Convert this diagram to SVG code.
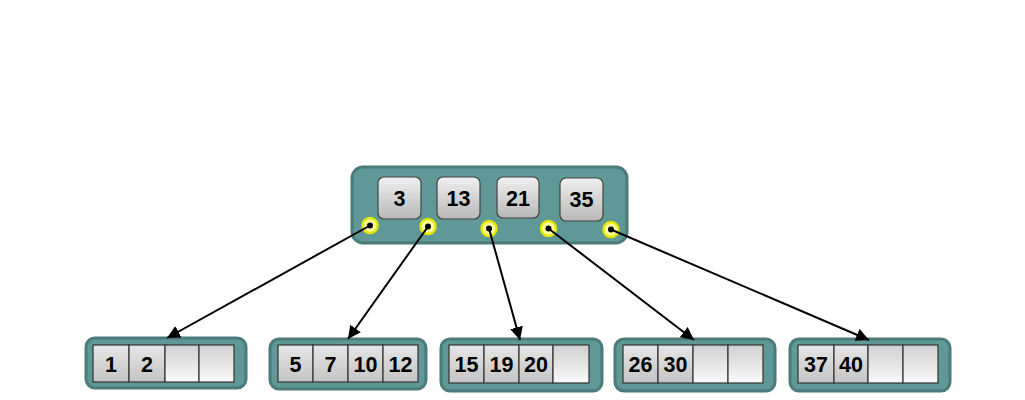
<svg xmlns="http://www.w3.org/2000/svg" width="1025" height="400" viewBox="0 0 1025 400">
<style>
.node{fill:#609898;stroke:#4b7b7b;stroke-width:3}
.key{fill:url(#kg);stroke:#444;stroke-width:1.2}
.cell{fill:url(#cg);stroke:#333;stroke-width:1.2}
.empty{fill:url(#eg);stroke:#333;stroke-width:1.2}
.t{font-family:"Liberation Sans",Arial,sans-serif;font-weight:bold;font-size:21.5px;text-anchor:middle;fill:#000}
.ptr{fill:#ffffa0;stroke:#e6e600;stroke-width:2.5}
.dot{fill:#000}
.conn line{stroke:#000;stroke-width:2;marker-end:url(#ah)}
</style>
<defs>
<linearGradient id="kg" x1="0" y1="0" x2="0" y2="1"><stop offset="0" stop-color="#f0f0f0"/><stop offset="1" stop-color="#b8b8b8"/></linearGradient>
<linearGradient id="cg" x1="0" y1="0" x2="0" y2="1"><stop offset="0" stop-color="#e6e6e6"/><stop offset="1" stop-color="#c4c4c4"/></linearGradient>
<linearGradient id="eg" x1="0" y1="0" x2="0" y2="1"><stop offset="0" stop-color="#cfcfcf"/><stop offset="1" stop-color="#fafafa"/></linearGradient>
<marker id="ah" viewBox="0 0 10 10" refX="10" refY="5" markerWidth="6.5" markerHeight="6.5" markerUnits="strokeWidth" orient="auto"><path d="M0,0 L10,5 L0,10 z" fill="#000"/></marker>
</defs>
<rect width="1025" height="400" fill="#fff"/>

<g id="root">
<rect class="node" x="352" y="167" width="275" height="76" rx="11"/>
<rect class="key" x="378" y="177" width="43" height="42" rx="6"/>
<text class="t" x="399.5" y="206">3</text>
<rect class="key" x="437" y="177" width="43" height="42" rx="6"/>
<text class="t" x="458.5" y="206">13</text>
<rect class="key" x="497" y="177" width="42" height="41" rx="6"/>
<text class="t" x="518" y="205.5">21</text>
<rect class="key" x="560" y="178" width="43" height="43" rx="6"/>
<text class="t" x="581.5" y="207">35</text>
<circle class="ptr" cx="370" cy="225.5" r="7.5"/><circle class="dot" cx="370" cy="225.5" r="3"/>
<circle class="ptr" cx="428" cy="226.5" r="7.5"/><circle class="dot" cx="428" cy="226.5" r="3"/>
<circle class="ptr" cx="489" cy="228.5" r="7.5"/><circle class="dot" cx="489" cy="228.5" r="3"/>
<circle class="ptr" cx="548.5" cy="228.5" r="7.5"/><circle class="dot" cx="548.5" cy="228.5" r="3"/>
<circle class="ptr" cx="611" cy="229.5" r="7.5"/><circle class="dot" cx="611" cy="229.5" r="3"/>
</g>

<g id="leaf1">
<rect class="node" x="86" y="338" width="160" height="50" rx="9"/>
<rect class="cell" x="93" y="345" width="36" height="37"/><text class="t" x="111" y="371.5">1</text>
<rect class="cell" x="129" y="345" width="36" height="37"/><text class="t" x="147" y="371.5">2</text>
<rect class="empty" x="165" y="345" width="34" height="37"/>
<rect class="empty" x="199" y="345" width="35" height="37"/>
</g>

<g id="leaf2">
<rect class="node" x="270" y="339" width="156" height="50" rx="9"/>
<rect class="cell" x="278" y="345" width="35" height="37"/><text class="t" x="295.5" y="371.5">5</text>
<rect class="cell" x="313" y="345" width="35" height="37"/><text class="t" x="330.5" y="371.5">7</text>
<rect class="cell" x="348" y="345" width="35" height="37"/><text class="t" x="365.5" y="371.5">10</text>
<rect class="cell" x="383" y="345" width="35" height="37"/><text class="t" x="400.5" y="371.5">12</text>
</g>

<g id="leaf3">
<rect class="node" x="441" y="339" width="161" height="52" rx="9"/>
<rect class="cell" x="449" y="345" width="35" height="38"/><text class="t" x="466.5" y="372">15</text>
<rect class="cell" x="484" y="345" width="35" height="38"/><text class="t" x="501.5" y="372">19</text>
<rect class="cell" x="519" y="345" width="34" height="38"/><text class="t" x="536" y="372">20</text>
<rect class="empty" x="553" y="345" width="36" height="38"/>
</g>

<g id="leaf4">
<rect class="node" x="615" y="339" width="160" height="52" rx="9"/>
<rect class="cell" x="623" y="345" width="35" height="38"/><text class="t" x="640.5" y="372">26</text>
<rect class="cell" x="658" y="345" width="35" height="38"/><text class="t" x="675.5" y="372">30</text>
<rect class="empty" x="693" y="345" width="35" height="38"/>
<rect class="empty" x="728" y="345" width="35" height="38"/>
</g>

<g id="leaf5">
<rect class="node" x="790" y="339" width="160" height="52" rx="9"/>
<rect class="cell" x="798" y="345" width="36" height="38"/><text class="t" x="816" y="372">37</text>
<rect class="cell" x="834" y="345" width="34" height="38"/><text class="t" x="851" y="372">40</text>
<rect class="empty" x="868" y="345" width="35" height="38"/>
<rect class="empty" x="903" y="345" width="35" height="38"/>
</g>

<g id="connectors" class="conn">
<line x1="370" y1="225.5" x2="167" y2="338"/>
<line x1="428" y1="226.5" x2="348" y2="339"/>
<line x1="489" y1="228.5" x2="520" y2="340"/>
<line x1="548.5" y1="228.5" x2="694" y2="340"/>
<line x1="611" y1="229.5" x2="869" y2="340"/>
</g>
</svg>
